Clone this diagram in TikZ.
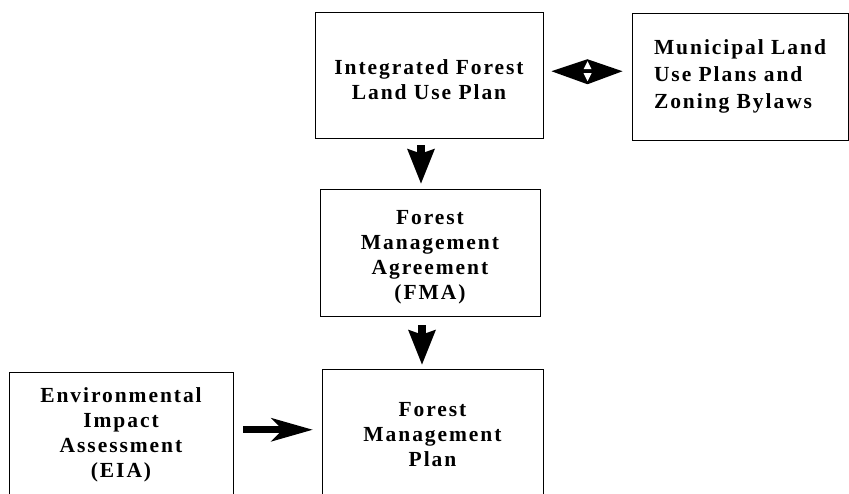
\documentclass[tikz,border=0pt]{standalone}
\usepackage{fontspec}
\setmainfont{Liberation Serif}[LetterSpace=9]
\usetikzlibrary{arrows.meta, calc, positioning}
\tikzset{
  planbox/.style={rectangle, draw=black, line width=0.8pt, align=center, inner sep=0pt, font=\bfseries\fontsize{21.5}{25}\selectfont},
  downarrow/.style={line width=8pt, -{Stealth[length=35pt, width=28pt, inset=5pt, line width=0pt]}},
  rightarrow/.style={line width=7pt, -{Stealth[length=42pt, width=24pt, inset=12pt, line width=0pt]}},
}

\begin{document}
\begin{tikzpicture}[x=1pt, y=-1pt]
\useasboundingbox (0,0) rectangle (849,494);
\clip (0,0) rectangle (849,494);
\node[planbox, minimum width=228pt, minimum height=126pt] (iflup) at (429,75) {\rule{0pt}{25pt}Integrated Forest\\Land Use Plan};
\node[planbox, minimum width=216pt, minimum height=127pt, align=left, font=\bfseries\fontsize{21.5}{27}\selectfont] (mlup) at (740,76.5) {Municipal Land\\Use Plans and\\Zoning Bylaws};
\node[planbox, minimum width=220pt, minimum height=127pt] (fma) at (430,252.5) {\rule{0pt}{23pt}Forest\\Management\\Agreement\\(FMA)};
\node[planbox, minimum width=221pt, minimum height=132pt] (fmp) at (432.5,435) {Forest\\Management\\Plan};
\node[planbox, minimum width=224pt, minimum height=125.5pt] (eia) at (121,434.75) {Environmental\\Impact\\Assessment\\(EIA)};
% arrows
\draw[downarrow, shorten <=7pt, shorten >=5pt] ([xshift=-8pt]iflup.south) -- ([xshift=-8pt]iflup.south |- fma.north);
\draw[downarrow, shorten <=9pt, shorten >=4pt] ([xshift=-8pt]fma.south) -- ([xshift=-8pt]fma.south |- fmp.north);
\draw[rightarrow, shorten <=10pt, shorten >=9pt] ([yshift=5pt]eia.east) -- ([yshift=5pt]eia.east -| fmp.west);
% two-way link
\coordinate (swap) at ($(iflup.east)!0.5!(mlup.west)+(0,-4.5)$);
\fill (swap) ++(-36,0) -- ++(36,-12) -- ++(35,12) -- ++(-35,13) -- cycle;
\fill[white] ($(swap)+(-4,-2)$) -- ++(8,0) -- ++(-4,-8) -- cycle;
\fill[white] ($(swap)+(-4,2)$) -- ++(8,0) -- ++(-4,8) -- cycle;
\end{tikzpicture}
\end{document}
